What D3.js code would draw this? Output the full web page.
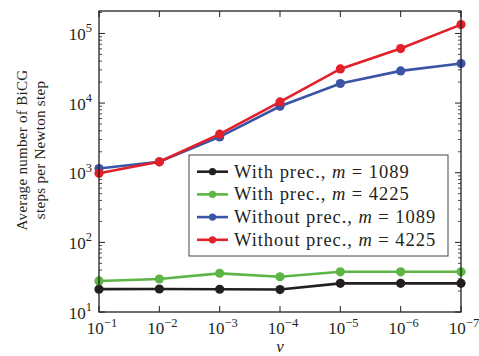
<!DOCTYPE html>
<html><head><meta charset="utf-8">
<script src="https://cdn.jsdelivr.net/npm/d3@7"></script>
<style>body{margin:0;background:#fff}svg{display:block}</style>
</head><body><svg id="c" width="479" height="356"></svg>
<script>
const nu = [1e-1, 1e-2, 1e-3, 1e-4, 1e-5, 1e-6, 1e-7];
const xTickExp = [-1, -2, -3, -4, -5, -6, -7];
const yTickExp = [1, 2, 3, 4, 5];
const withPrec1089 = [21.3, 21.4, 21.2, 21.0, 25.8, 25.8, 25.8];
const withPrec4225 = [27.9, 29.8, 35.9, 32.1, 37.8, 37.8, 37.8];
const withoutPrec1089 = [1150, 1435, 3270, 9000, 19100, 29000, 37000];
const withoutPrec4225 = [980, 1435, 3580, 10400, 30900, 60700, 134000];
const seriesLabels = [["With prec., ", "m", " = 1089"], ["With prec., ", "m", " = 4225"], ["Without prec., ", "m", " = 1089"], ["Without prec., ", "m", " = 4225"]];
const colors = ["#231f20", "#5db546", "#3b54a5", "#e2202a"];
const seriesData = [withPrec1089, withPrec4225, withoutPrec1089, withoutPrec4225];
const FONT = "Liberation Serif, serif";

const svg = d3.select("#c");
const L = 99, R = 461, T = 11, B = 312;
const x = d3.scaleLog().domain([1e-1, 1e-7]).range([L, R]);
const y = d3.scaleLog().domain([10, 2.1e5]).range([B, T]);

const minor = [];
for (let e = 1; e <= 5; e++) for (let k = 2; k <= 9; k++) { const v = k * Math.pow(10, e); if (v <= 2.1e5) minor.push(v); }
const g = svg.append("g");
minor.forEach(v => {
  g.append("line").attr("x1", L).attr("x2", L + 3).attr("y1", y(v)).attr("y2", y(v)).attr("stroke", "#231f20").attr("stroke-width", 0.8);
  g.append("line").attr("x1", R).attr("x2", R - 3).attr("y1", y(v)).attr("y2", y(v)).attr("stroke", "#231f20").attr("stroke-width", 0.8);
});
yTickExp.forEach(e => {
  const v = Math.pow(10, e);
  g.append("line").attr("x1", L).attr("x2", L + 6).attr("y1", y(v)).attr("y2", y(v)).attr("stroke", "#231f20").attr("stroke-width", 1);
  g.append("line").attr("x1", R).attr("x2", R - 6).attr("y1", y(v)).attr("y2", y(v)).attr("stroke", "#231f20").attr("stroke-width", 1);
  const t = svg.append("text").attr("x", 92).attr("y", y(v) + 6.5).attr("text-anchor", "end").attr("font-size", 17).style("font-family", FONT).attr("fill", "#231f20");
  t.append("tspan").text("10");
  t.append("tspan").attr("font-size", 12.5).attr("dy", -7.5).text(e);
});
xTickExp.forEach(e => {
  const v = Math.pow(10, e);
  g.append("line").attr("x1", x(v)).attr("x2", x(v)).attr("y1", B).attr("y2", B - 6).attr("stroke", "#231f20").attr("stroke-width", 1);
  g.append("line").attr("x1", x(v)).attr("x2", x(v)).attr("y1", T).attr("y2", T + 6).attr("stroke", "#231f20").attr("stroke-width", 1);
  const t = svg.append("text").attr("x", x(v) + 3).attr("y", 334).attr("text-anchor", "middle").attr("font-size", 17).style("font-family", FONT).attr("fill", "#231f20");
  t.append("tspan").text("10");
  t.append("tspan").attr("font-size", 12.5).attr("dy", -7.5).text("\u2212" + (-e));
});

const line = d3.line().x((d, i) => x(nu[i])).y(d => y(d));
seriesData.forEach((s, i) => {
  svg.append("path").datum(s).attr("d", line).attr("fill", "none").attr("stroke", colors[i]).attr("stroke-width", 2.6);
  svg.selectAll(null).data(s).enter().append("circle").attr("cx", (d, j) => x(nu[j])).attr("cy", d => y(d)).attr("r", 4.6).attr("fill", colors[i]);
});

svg.append("rect").attr("x", L).attr("y", T).attr("width", R - L).attr("height", B - T).attr("fill", "none").attr("stroke", "#231f20").attr("stroke-width", 1.3);

const lg = svg.append("g");
lg.append("rect").attr("x", 189).attr("y", 155).attr("width", 259).attr("height", 101).attr("fill", "#fff").attr("stroke", "#444").attr("stroke-width", 1);
seriesLabels.forEach((lab, i) => {
  const yy = 171.7 + i * 22.7;
  lg.append("line").attr("x1", 197).attr("x2", 228).attr("y1", yy).attr("y2", yy).attr("stroke", colors[i]).attr("stroke-width", 2.6);
  lg.append("circle").attr("cx", 212.5).attr("cy", yy).attr("r", 3.6).attr("fill", colors[i]);
  const t = lg.append("text").attr("x", 234).attr("y", yy + 6).attr("font-size", 18.5).attr("letter-spacing", 0.95).style("font-family", FONT).attr("fill", "#231f20");
  t.append("tspan").text(lab[0]);
  t.append("tspan").attr("font-style", "italic").text(lab[1]);
  t.append("tspan").text(lab[2]);
});

svg.append("text").attr("x", 280).attr("y", 352).attr("text-anchor", "middle").attr("font-size", 17).attr("font-style", "italic").style("font-family", FONT).attr("fill", "#231f20").text("\u03bd");
const yl = svg.append("text").attr("transform", "translate(27,150) rotate(-90)").attr("text-anchor", "middle").attr("font-size", 15).attr("letter-spacing", 0.3).style("font-family", FONT).attr("fill", "#231f20");
yl.append("tspan").attr("x", 0).attr("dy", 0).text("Average number of BiCG");
yl.append("tspan").attr("x", 0).attr("dy", 18).text("steps per Newton step");
</script></body></html>
